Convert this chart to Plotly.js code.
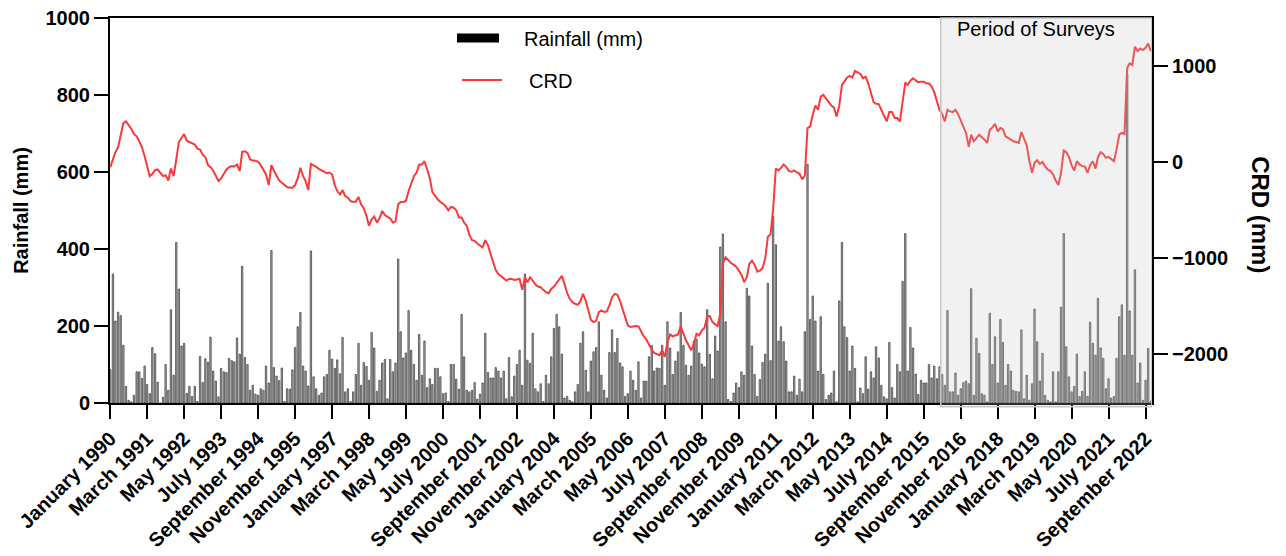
<!DOCTYPE html>
<html>
<head>
<meta charset="utf-8">
<script src="https://cdn.plot.ly/plotly-3.0.1.min.js"></script>
<style>
  html, body { margin: 0; padding: 0; background: #ffffff; }
  #chart { width: 1286px; height: 556px; }
</style>
</head>
<body>
<div id="chart"></div>
<script>
// ---- Data (monthly, starting January 1990) ----
const startYear = 1990;

// Monthly rainfall (mm), one row per year
const rainfall = [
  87, 335, 213, 236, 227, 150, 43, 7, 3, 20, 81, 81,        // 1990
  64, 96, 48, 24, 144, 128, 54, 0, 15, 100, 33, 242,        // 1991
  72, 417, 296, 148, 155, 25, 43, 17, 43, 4, 121, 53,       // 1992
  115, 106, 171, 83, 57, 16, 90, 81, 79, 116, 110, 107,     // 1993
  169, 127, 355, 118, 100, 33, 46, 23, 20, 37, 33, 96,      // 1994
  52, 396, 92, 70, 58, 91, 4, 37, 36, 86, 144, 198,         // 1995
  235, 96, 83, 44, 395, 68, 37, 20, 26, 68, 74, 137,        // 1996
  114, 90, 112, 76, 170, 29, 37, 4, 29, 74, 155, 46,        // 1997
  105, 95, 59, 183, 143, 30, 59, 104, 113, 11, 113, 81,     // 1998
  104, 374, 185, 117, 130, 240, 137, 100, 59, 178, 72, 161, // 1999
  40, 63, 48, 90, 90, 68, 24, 26, 4, 100, 100, 62,          // 2000
  36, 230, 120, 33, 29, 33, 53, 10, 23, 52, 181, 79,        // 2001
  65, 65, 92, 83, 65, 83, 11, 118, 16, 70, 100, 137,        // 2002
  46, 335, 111, 103, 181, 37, 29, 50, 4, 72, 50, 120,       // 2003
  194, 230, 198, 127, 13, 17, 7, 3, 29, 48, 155, 185,       // 2004
  85, 29, 109, 133, 144, 211, 72, 33, 13, 131, 190, 131,    // 2005
  168, 104, 94, 17, 24, 83, 59, 33, 107, 13, 57, 57,        // 2006
  120, 149, 83, 91, 90, 150, 46, 211, 143, 74, 109, 133,    // 2007
  235, 150, 98, 72, 96, 161, 165, 130, 101, 94, 242, 126,   // 2008
  63, 174, 135, 405, 439, 211, 9, 4, 26, 52, 40, 81,        // 2009
  72, 298, 278, 148, 74, 17, 61, 105, 127, 311, 110, 485,   // 2010
  411, 161, 198, 159, 109, 29, 29, 70, 20, 62, 29, 185,     // 2011
  620, 217, 278, 213, 83, 224, 74, 9, 20, 26, 83, 3,        // 2012
  265, 417, 198, 170, 83, 148, 90, 3, 39, 24, 120, 36,      // 2013
  81, 65, 146, 117, 46, 16, 11, 157, 40, 13, 100, 81,       // 2014
  316, 440, 83, 196, 143, 75, 22, 59, 52, 52, 100, 65,      // 2015
  96, 63, 94, 74, 46, 240, 29, 29, 78, 20, 37, 53,          // 2016
  57, 50, 297, 20, 168, 129, 24, 20, 3, 233, 100, 172,      // 2017
  52, 217, 157, 46, 100, 83, 33, 30, 29, 190, 11, 72,       // 2018
  7, 50, 244, 159, 57, 129, 20, 7, 3, 81, 3, 81,            // 2019
  249, 440, 146, 68, 29, 43, 127, 17, 30, 81, 17, 210,      // 2020
  155, 124, 272, 143, 116, 37, 63, 13, 17, 116, 224, 255,   // 2021
  124, 855, 239, 124, 346, 52, 104, 7, 59, 142, 5           // 2022
];

// Cumulative rainfall departure (mm), one row per year
const crd = [
  -52, 38, 103, 155, 286, 407, 424, 390, 345, 293, 269, 217,               // 1990
  155, 62, -52, -145, -121, -83, -76, -117, -145, -135, -190, -66,         // 1991
  -145, 28, 210, 252, 293, 224, 210, 190, 183, 141, 131, 79,               // 1992
  52, -31, -52, -86, -135, -197, -169, -121, -76, -52, -41, -45,           // 1993
  -24, -93, 107, 114, 97, 28, 17, 15, 3, -31, -76, -128,                   // 1994
  -238, -31, -86, -138, -190, -214, -238, -259, -266, -266, -238, -169,    // 1995
  -59, -145, -197, -290, -17, -31, -48, -69, -86, -104, -114, -107,        // 1996
  -128, -241, -300, -335, -290, -352, -369, -404, -414, -410, -362, -438,  // 1997
  -480, -559, -662, -593, -566, -628, -583, -507, -549, -569, -583, -628,  // 1998
  -618, -438, -414, -414, -404, -300, -214, -145, -107, -24, -24, 10,      // 1999
  -76, -169, -311, -352, -386, -414, -431, -459, -500, -466, -473, -500,   // 2000
  -576, -576, -628, -662, -756, -811, -818, -845, -869, -887, -811, -859,  // 2001
  -956, -1042, -1121, -1163, -1187, -1214, -1232, -1214, -1214, -1225, -1221, -1214, // 2002
  -1328, -1197, -1249, -1197, -1232, -1273, -1294, -1301, -1328, -1352, -1363, -1318, // 2003
  -1294, -1259, -1214, -1183, -1266, -1363, -1421, -1456, -1473, -1484, -1446, -1370, // 2004
  -1439, -1542, -1639, -1663, -1653, -1559, -1542, -1559, -1553, -1490, -1404, -1370, // 2005
  -1380, -1446, -1525, -1594, -1697, -1715, -1708, -1704, -1708, -1766, -1811, -1846, // 2006
  -1904, -1949, -1984, -1998, -2008, -1956, -2025, -1870, -1791, -1811, -1801, -1791, // 2007
  -1708, -1784, -1853, -1904, -1956, -1887, -1784, -1801, -1749, -1722, -1604, -1601, // 2008
  -1663, -1687, -1704, -1577, -1052, -990, -1025, -1049, -1066, -1087, -1128, -1170,  // 2009
  -1249, -1197, -1059, -1025, -1066, -1139, -1128, -1101, -1000, -776, -749, -490,    // 2010
  -66, -86, -59, -24, -48, -93, -100, -86, -107, -121, -179, -138,         // 2011
  355, 373, 493, 590, 545, 683, 700, 666, 631, 590, 569, 476,              // 2012
  590, 804, 838, 880, 897, 880, 949, 935, 918, 873, 890, 821,              // 2013
  735, 624, 607, 604, 545, 476, 424, 521, 521, 459, 459, 424,              // 2014
  624, 831, 804, 849, 873, 852, 831, 838, 838, 821, 818, 787,              // 2015
  728, 631, 545, 500, 424, 545, 528, 521, 545, 500, 431, 373,              // 2016
  304, 159, 286, 217, 252, 286, 259, 235, 200, 338, 362, 400,              // 2017
  321, 355, 345, 269, 252, 235, 217, 210, 200, 314, 252, 176,              // 2018
  10, -110, -7, 21, -17, 3, -45, -76, -93, -128, -190, -238,               // 2019
  -110, 121, 104, 55, -31, -86, 10, -24, -41, -45, -110, -31,              // 2020
  10, -66, 52, 104, 86, 45, 55, 28, 10, 131, 286, 304,                     // 2021
  293, 976, 1028, 1011, 1201, 1156, 1183, 1166, 1190, 1235, 1156           // 2022
];

// X tick labels (every 14 months from January 1990)
const tickStepMonths = 14;
const tickLabels = [
  "January 1990", "March 1991", "May 1992", "July 1993", "September 1994",
  "November 1995", "January 1997", "March 1998", "May 1999", "July 2000",
  "September 2001", "November 2002", "January 2004", "March 2005", "May 2006",
  "July 2007", "September 2008", "November 2009", "January 2011", "March 2012",
  "May 2013", "July 2014", "September 2015", "November 2016", "January 2018",
  "March 2019", "May 2020", "July 2021", "September 2022"
];

// Survey period
const surveyStart = "2016-03-16";
const surveyEnd = "2022-11-12";
const surveyLabel = "Period of Surveys";

// ---- Build ----
function monthDate(i) {
  const y = startYear + Math.floor(i / 12);
  const m = (i % 12) + 1;
  return y + "-" + String(m).padStart(2, "0") + "-01";
}
const months = rainfall.map((_, i) => monthDate(i));
const tickVals = tickLabels.map((_, k) => monthDate(k * tickStepMonths));

const FONT = "Liberation Sans, Arial, Helvetica, sans-serif";

const traces = [
  {
    type: "bar",
    name: "Rainfall (mm)",
    x: months,
    y: rainfall,
    marker: { color: "#b4b4b4", line: { color: "#1a1a1a", width: 0.6 } },
    showlegend: false,
    hoverinfo: "x+y"
  },
  {
    type: "scatter",
    mode: "lines",
    name: "CRD",
    x: months,
    y: crd,
    yaxis: "y2",
    line: { color: "rgb(250,58,58)", width: 2 },
    showlegend: false
  }
];

const layout = {
  width: 1286,
  height: 556,
  margin: { l: 110, r: 134, t: 18, b: 153 },
  paper_bgcolor: "#ffffff",
  plot_bgcolor: "#ffffff",
  bargap: 0.42,
  showlegend: false,
  font: { family: FONT, color: "#000000" },
  xaxis: {
    type: "date",
    range: ["1989-12-29", "2022-11-14"],
    tickmode: "array",
    tickvals: tickVals,
    ticktext: tickLabels,
    tickangle: -45,
    ticks: "outside",
    ticklen: 14,
    tickwidth: 2,
    tickcolor: "#000000",
    showline: true,
    linewidth: 2,
    linecolor: "#000000",
    mirror: true,
    showgrid: false,
    zeroline: false,
    tickfont: { family: FONT, size: 20, weight: 700, color: "#000000" }
  },
  yaxis: {
    range: [0, 1000],
    tickmode: "array",
    tickvals: [0, 200, 400, 600, 800, 1000],
    ticks: "outside",
    ticklen: 14,
    tickwidth: 2,
    tickcolor: "#000000",
    showline: true,
    linewidth: 2,
    linecolor: "#000000",
    showgrid: false,
    zeroline: false,
    tickfont: { family: FONT, size: 20, weight: 700, color: "#000000" },
    title: { text: "Rainfall (mm)", font: { family: FONT, size: 20, weight: 700, color: "#000000" }, standoff: 12 }
  },
  yaxis2: {
    overlaying: "y",
    side: "right",
    range: [-2505, 1500],
    tickmode: "array",
    tickvals: [-2000, -1000, 0, 1000],
    ticks: "outside",
    ticklen: 14,
    tickwidth: 2,
    tickcolor: "#000000",
    showline: true,
    linewidth: 2,
    linecolor: "#000000",
    showgrid: false,
    zeroline: false,
    tickfont: { family: FONT, size: 20, weight: 700, color: "#000000" }
  },
  shapes: [
    {
      type: "rect", xref: "x", yref: "paper",
      x0: surveyStart, x1: surveyEnd, y0: -0.01, y1: 1,
      fillcolor: "rgba(190,190,190,0.22)",
      line: { color: "rgb(200,200,200)", width: 1.5 },
      layer: "above"
    },
    // legend key: rainfall
    {
      type: "rect", xref: "paper", yref: "paper",
      x0: 0.3330, x1: 0.3733, y0: 0.9364, y1: 0.9597,
      fillcolor: "#000000", line: { width: 0 }
    },
    // legend key: CRD
    {
      type: "line", xref: "paper", yref: "paper",
      x0: 0.3378, x1: 0.3762, y0: 0.839, y1: 0.839,
      line: { color: "rgb(250,58,58)", width: 2 }
    }
  ],
  annotations: [
    {
      text: surveyLabel, xref: "paper", yref: "paper",
      x: 0.8887, y: 0.971, xanchor: "center", yanchor: "middle",
      showarrow: false, font: { family: FONT, size: 20, color: "#000000" }
    },
    {
      text: "Rainfall (mm)", xref: "paper", yref: "paper",
      x: 0.3954, y: 0.9455, xanchor: "left", yanchor: "middle",
      showarrow: false, font: { family: FONT, size: 20, color: "#000000" }
    },
    {
      text: "CRD", xref: "paper", yref: "paper",
      x: 0.4002, y: 0.8364, xanchor: "left", yanchor: "middle",
      showarrow: false, font: { family: FONT, size: 20, color: "#000000" }
    },
    {
      text: "CRD (mm)", xref: "paper", yref: "paper",
      x: 1.1046, y: 0.488, xanchor: "center", yanchor: "middle",
      textangle: 90, showarrow: false,
      font: { family: FONT, size: 24, weight: 700, color: "#000000" }
    }
  ]
};

Plotly.newPlot("chart", traces, layout, { displayModeBar: false, staticPlot: true });
</script>
</body>
</html>
